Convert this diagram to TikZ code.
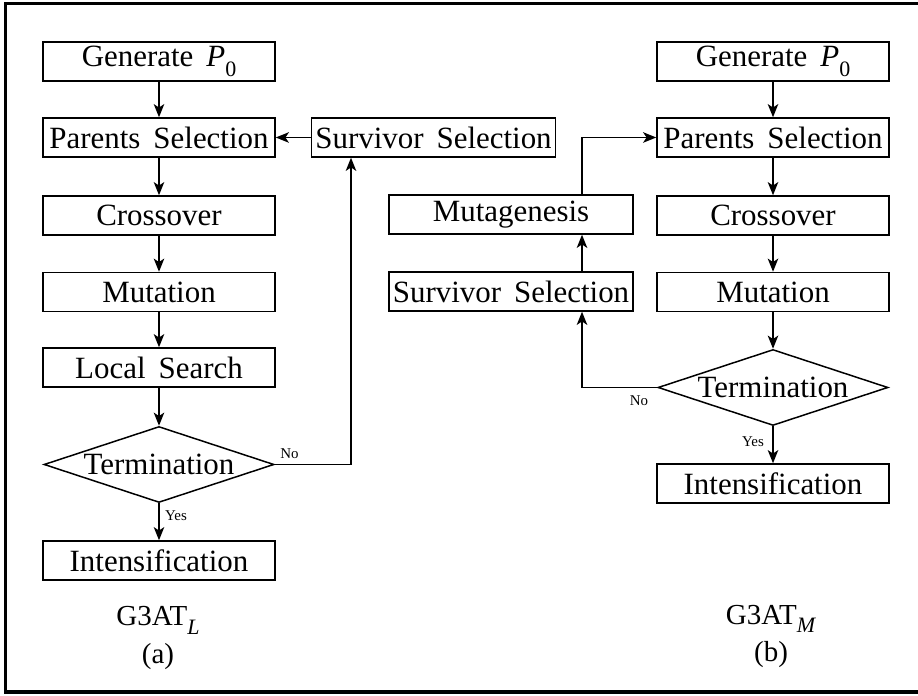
\documentclass[tikz,border=0pt]{standalone}
\usepackage{fontspec}
\setmainfont{Liberation Serif}
\usetikzlibrary{shapes.geometric,arrows.meta,positioning}
\newcommand{\boxfont}{\fontsize{17.6}{21}\selectfont\spaceskip .42em\relax}
\newcommand{\lowsub}[1]{\raisebox{-.3em}{\fontsize{12.5}{12.5}\selectfont #1}}

\begin{document}
\begin{tikzpicture}[font=\boxfont,
    blk/.style={draw, line width=0.85pt, minimum width=4.64cm, minimum height=0.78cm, inner sep=2pt},
    wide/.style={blk, minimum width=4.88cm},
    dec/.style={draw, line width=0.85pt, diamond, minimum width=4.6cm, minimum height=1.52cm, inner sep=0pt},
    arr/.style={-{Stealth[length=7.5pt,width=6pt,inset=2pt]}, line width=0.85pt},
    lbl/.style={font=\fontsize{8.5}{10}\selectfont, inner sep=1pt},
    subcap/.style={align=center, font=\fontsize{16.5}{21.5}\selectfont}]
        \useasboundingbox (0,0) rectangle (18.36,13.92);
        % frame, right side cut off
        \draw[line width=2.2pt] (18.36,13.85) -- (0.11,13.85) -- (0.11,0.08) -- (18.36,0.08);
        % (a) left flow
        \foreach \nm/\y/\txt in {genL/12.69/{Generate \textit{P}\lowsub{0}}, parL/11.17/Parents Selection, croL/9.61/Crossover, mutL/8.08/Mutation, locL/6.57/Local Search, intL/2.71/Intensification}
            \node[blk] (\nm) at (3.18,\y) {\txt};
        \node[dec] (terL) at (3.18,4.63) {\makebox[0pt]{Termination}};
        \node[wide] (surL) at (8.67,11.17) {Survivor Selection};
        \foreach \a/\b in {genL/parL, parL/croL, croL/mutL, mutL/locL, locL/terL, terL/intL}
            \draw[arr] (\a) -- (\b);
        % No goes back through survivor selection
        \coordinate (noL) at (7.02,4.63);
        \draw[arr] (terL.east) -- (noL) -- (noL |- surL.south);
        \draw[arr] (surL) -- (parL);
        \node[lbl, above right=2pt and 2pt of terL.east] (noLtxt) {No};
        \node[lbl, below right=0.1cm and 0.08cm of terL.south] (yesLtxt) {Yes};
        \node[subcap] (capL) at (3.16,1.16) {G3AT\lowsub{\textit{L}}\\(a)};
        % (b) right flow
        \foreach \nm/\y/\txt in {genR/12.69/{Generate \textit{P}\lowsub{0}}, parR/11.17/Parents Selection, croR/9.61/Crossover, mutR/8.08/Mutation, intR/4.25/Intensification}
            \node[blk] (\nm) at (15.46,\y) {\txt};
        \node[dec] (terR) at (15.46,6.17) {\makebox[0pt]{Termination}};
        \node[wide] (mgeR) at (10.22,9.63) {Mutagenesis};
        \node[wide] (surR) at (10.22,8.09) {Survivor Selection};
        \foreach \a/\b in {genR/parR, parR/croR, croR/mutR, mutR/terR, terR/intR}
            \draw[arr] (\a) -- (\b);
        % No: survivor selection, then mutagenesis, back to parents
        \coordinate (noR) at (11.64,6.17);
        \draw[arr] (terR.west) -- (noR) -- (noR |- surR.south);
        \draw[arr] (noR |- surR.north) -- (noR |- mgeR.south);
        \draw[arr] (noR |- mgeR.north) |- (parR.west);
        \node[lbl, below left=0.12cm and 0.14cm of terR.west] (noRtxt) {No};
        \node[lbl, below left=0.16cm and 0.14cm of terR.south] (yesRtxt) {Yes};
        \node[subcap] (capR) at (15.42,1.19) {G3AT\lowsub{\textit{M}}\\(b)};
    \end{tikzpicture}
\end{document}
